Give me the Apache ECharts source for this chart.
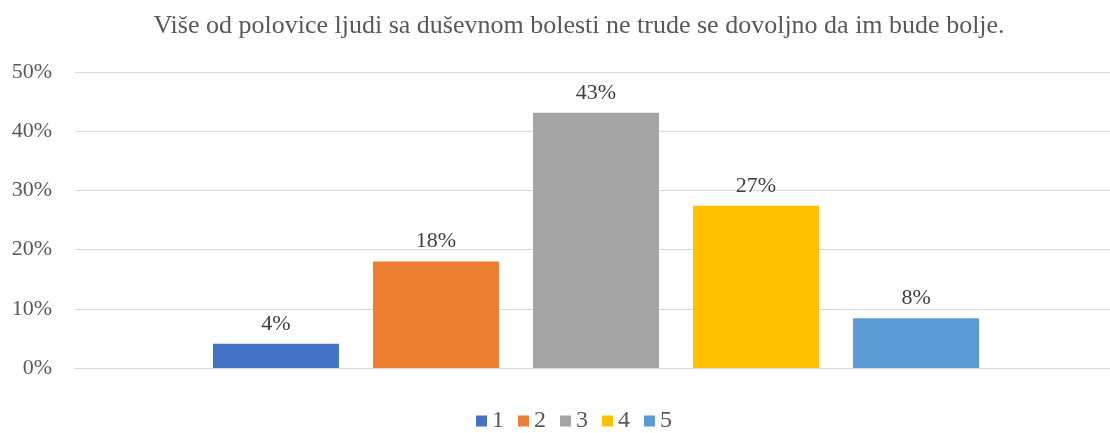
<!DOCTYPE html>
<html>
<head>
<meta charset="utf-8">
<script src="https://cdn.jsdelivr.net/npm/echarts@6/dist/echarts.min.js"></script>
<style>
  html, body { margin: 0; padding: 0; background: #fff; }
  #chart { width: 1110px; height: 433px; }
</style>
</head>
<body>
<div id="chart"></div>
<script>
var titleText = 'Više od polovice ljudi sa duševnom bolesti ne trude se dovoljno da im bude bolje.';
var seriesNames = ['1', '2', '3', '4', '5'];
var seriesValues = [4.1, 18.0, 43.1, 27.4, 8.4]; // postotci
var seriesColors = ['#4472C4', '#ED7D31', '#A5A5A5', '#FFC000', '#5B9BD5'];
var yTicks = [0, 10, 20, 30, 40, 50];

var font = 'Liberation Serif, Times New Roman, serif';

var myChart = echarts.init(document.getElementById('chart'), null, { renderer: 'canvas' });

var series = seriesNames.map(function (name, i) {
  return {
    name: name,
    type: 'bar',
    barWidth: 126,
    barGap: '27%',
    itemStyle: { color: seriesColors[i] },
    label: {
      show: true,
      position: 'top',
      distance: 9,
      color: '#404040',
      fontFamily: font,
      fontSize: 22,
      formatter: function (p) { return Math.round(p.value) + '%'; }
    },
    data: [seriesValues[i]]
  };
});

var option = {
  animation: false,
  title: {
    text: titleText,
    left: 574,
    textAlign: 'center',
    top: 8,
    textStyle: { color: '#595959', fontFamily: font, fontSize: 26, fontWeight: 'normal' }
  },
  legend: {
    data: seriesNames,
    top: 409,
    left: 476,
    padding: 0,
    itemWidth: 11,
    itemHeight: 11,
    itemGap: 14,
    icon: 'rect',
    textStyle: { color: '#595959', fontFamily: font, fontSize: 24 }
  },
  // plot runs a bit past the right edge, like the original
  grid: { left: 75, width: 1042, top: 72, bottom: 65, containLabel: false, outerBoundsMode: 'none' },
  xAxis: {
    type: 'category',
    data: [''],
    axisLine: { lineStyle: { color: '#D9D9D9', width: 1 } },
    axisTick: { show: false },
    axisLabel: { show: false }
  },
  yAxis: {
    type: 'value',
    min: yTicks[0],
    max: yTicks[yTicks.length - 1],
    interval: 10,
    axisLine: { show: false },
    axisTick: { show: false },
    splitLine: { lineStyle: { color: '#D9D9D9', width: 1 } },
    axisLabel: {
      margin: 23,
      color: '#595959',
      fontFamily: font,
      fontSize: 22,
      formatter: '{value}%'
    }
  },
  series: series
};

myChart.setOption(option);
</script>
</body>
</html>
